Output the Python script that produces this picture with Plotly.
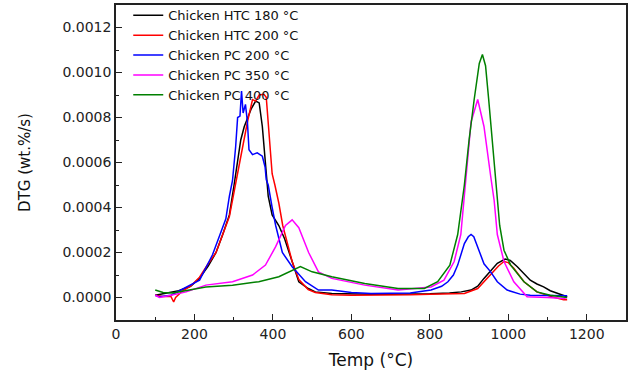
import plotly.graph_objects as go

# ---- data ----
names = ["Chicken HTC 180 °C", "Chicken HTC 200 °C", "Chicken PC 200 °C",
         "Chicken PC 350 °C", "Chicken PC 400 °C"]
colors = ["#000000", "#ff0000", "#0000ff", "#ff00ff", "#008000"]

htc180_x = [100, 128, 160, 190, 213, 235, 255, 272, 289, 301, 310, 318, 327, 336, 345, 356, 365, 373, 380,
            383, 388, 398, 415, 430, 449, 466, 490, 508, 550, 600, 650, 700, 750, 800, 850, 880, 905, 922,
            938, 955, 972, 992, 1005, 1023, 1040, 1056, 1073, 1090, 1107, 1124, 1141, 1150]
htc180_y = [0.00001, 0.00002, 0.00003, 0.00005, 0.000086, 0.00014, 0.0002, 0.00028, 0.000367, 0.0005,
            0.000613, 0.0007, 0.00076, 0.000805, 0.00084, 0.000873, 0.000865, 0.00076, 0.000613, 0.000524,
            0.00045, 0.000367, 0.00032, 0.00026, 0.00016, 0.00007, 0.00004, 0.000025, 0.000018, 0.000015,
            0.000015, 0.000015, 0.000015, 0.000017, 0.00002, 0.000025, 0.000033, 0.00005, 0.000085, 0.00012,
            0.000152, 0.000171, 0.000165, 0.000137, 0.000105, 0.000077, 0.00006, 0.000047, 0.00003,
            0.000018, 0.000008, 0.000003]

htc200_x = [100, 120, 140, 147, 152, 170, 190, 213, 235, 255, 272, 289, 301, 313, 322, 335, 348, 356, 365,
            377, 383, 388, 394, 398, 405, 415, 425, 435, 449, 466, 490, 508, 550, 600, 650, 700, 750, 800,
            850, 888, 922, 955, 975, 989, 1000, 1014, 1040, 1073, 1107, 1141, 1150]
htc200_y = [0.00001, 0.000005, 0.000005, -0.00002, 0.0, 0.00003, 0.00005, 0.00009, 0.00015, 0.0002,
            0.00028, 0.00036, 0.00047, 0.00058, 0.00067, 0.00078, 0.00088, 0.000873, 0.0009, 0.000903,
            0.00089, 0.00076, 0.00061, 0.00055, 0.0005, 0.00042, 0.00032, 0.00025, 0.00016, 0.00008,
            0.000035, 0.000022, 0.000012, 0.00001, 0.00001, 0.00001, 0.000012, 0.000015, 0.000015,
            0.000018, 0.00004, 0.0001, 0.00014, 0.00016, 0.000155, 0.00013, 0.00007, 0.000025, 0.000005,
            -0.00001, -0.00001]

pc200_x = [100, 111, 140, 179, 213, 246, 265, 280, 289, 297, 305, 310, 316, 320, 324, 330, 335, 339, 348,
           360, 373, 380, 383, 388, 398, 407, 424, 449, 483, 516, 550, 600, 650, 700, 750, 803, 830, 846,
           860, 871, 888, 898, 905, 912, 922, 938, 955, 972, 997, 1030, 1056, 1100, 1141, 1150]
pc200_y = [0.00001, 0.000003, 0.00001, 0.000047, 0.000077, 0.00019, 0.00028, 0.00035, 0.00045, 0.00052,
           0.00067, 0.0008, 0.000806, 0.000918, 0.00082, 0.000858, 0.00078, 0.000657, 0.000635, 0.000643,
           0.000628, 0.00058, 0.000524, 0.0005, 0.0004, 0.00032, 0.0002, 0.000137, 0.00007, 0.000033,
           0.000033, 0.000022, 0.000018, 0.000018, 0.00002, 0.000033, 0.00005, 0.00007, 0.0001, 0.000144,
           0.00024, 0.00027, 0.00028, 0.00027, 0.00022, 0.00015, 0.000114, 0.00007, 0.000033, 0.000015,
           0.00001, 0.00001, 0.000008, 0.000008]

pc350_x = [100, 111, 140, 179, 229, 297, 348, 381, 407, 432, 449, 466, 491, 508, 516, 550, 634, 719, 803,
           836, 862, 879, 891, 905, 922, 938, 955, 964, 972, 989, 1014, 1048, 1100, 1141, 1150]
pc350_y = [0.00001, 0.0, 0.00001, 0.000025, 0.000055, 0.00007, 0.0001, 0.000144, 0.000226, 0.00032,
           0.000345, 0.00031, 0.0002, 0.000144, 0.000114, 0.000085, 0.000055, 0.000033, 0.000047,
           0.000077, 0.00016, 0.00028, 0.0005, 0.00078, 0.00088, 0.00076, 0.00054, 0.00043, 0.00028,
           0.00016, 0.00007, 0.000003, 0.0, -0.000004, 0.0]

pc400_x = [100, 120, 145, 179, 229, 297, 364, 415, 449, 470, 500, 550, 634, 719, 786, 820, 851, 871, 888,
           900, 913, 926, 934, 942, 950, 968, 978, 989, 1006, 1040, 1073, 1107, 1141, 1150]
pc400_y = [0.000033, 0.000022, 0.00002, 0.00003, 0.000047, 0.000055, 0.00007, 0.000092, 0.00012,
           0.000137, 0.000114, 0.000092, 0.000062, 0.00004, 0.00004, 0.00007, 0.000144, 0.00028, 0.0005,
           0.0007, 0.00088, 0.00104, 0.00108, 0.00103, 0.00088, 0.0005, 0.00032, 0.00021, 0.000144,
           0.00007, 0.000025, 0.00001, 0.0, 0.0]

x_ticks = [0, 200, 400, 600, 800, 1000, 1200]
y_ticks = [0.0, 0.0002, 0.0004, 0.0006, 0.0008, 0.0010, 0.0012]

series_x = [htc180_x, htc200_x, pc200_x, pc350_x, pc400_x]
series_y = [htc180_y, htc200_y, pc200_y, pc350_y, pc400_y]

FONT = "DejaVu Sans"

fig = go.Figure()
for n, c, xs, ys in zip(names, colors, series_x, series_y):
    fig.add_trace(go.Scatter(x=xs, y=ys, mode="lines", name=n,
                             line=dict(color=c, width=1.5)))

axis_common = dict(
    showgrid=False, zeroline=False, showline=True, linecolor="#222222", linewidth=1.5,
    mirror=True, ticks="inside", ticklen=6, tickwidth=1.2, tickcolor="#222222",
    tickfont=dict(family=FONT, size=14, color="#222222"),
)

fig.update_xaxes(range=[0, 1300], tickvals=x_ticks,
                 minor=dict(dtick=100, tick0=0, ticks="inside", ticklen=3, tickcolor="#222222"),
                 title=dict(text="Temp (°C)", font=dict(family=FONT, size=17, color="#111111"), standoff=14),
                 **axis_common)
fig.update_yaxes(range=[-0.0001, 0.0013], tickvals=y_ticks, tickformat=".4f",
                 minor=dict(dtick=0.0001, tick0=0, ticks="inside", ticklen=3, tickcolor="#222222"),
                 title=dict(text="DTG (wt.%/s)", font=dict(family=FONT, size=15, color="#111111"), standoff=28),
                 **axis_common)

fig.update_layout(
    width=634, height=371,
    margin=dict(l=116, r=8, t=5, b=51, autoexpand=False),
    paper_bgcolor="white", plot_bgcolor="white",
    showlegend=True,
    legend=dict(x=0.024, y=1.015, xanchor="left", yanchor="top",
                bgcolor="rgba(0,0,0,0)", font=dict(family=FONT, size=13, color="#111111"),
                tracegroupgap=0),
)

fig.write_html("out.html", config={"displayModeBar": False},
               post_script="document.body.style.margin='0';")
